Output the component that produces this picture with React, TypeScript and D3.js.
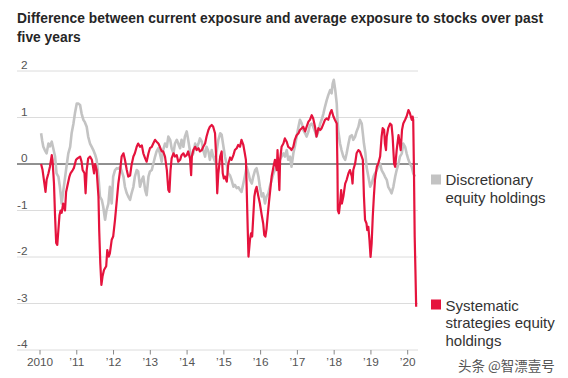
import React from "react";
import * as d3 from "d3";

const titleLines = [
  "Difference between current exposure and average exposure to stocks over past",
  "five years",
];
const yTicks = [-4, -3, -2, -1, 0, 1, 2];
const xTicks = [2010, 2011, 2012, 2013, 2014, 2015, 2016, 2017, 2018, 2019, 2020];
const legendDiscretionary = ["Discretionary", "equity holdings"];
const legendSystematic = ["Systematic", "strategies equity", "holdings"];
const watermark = "头条 @智漂壹号";

// [decimal year, value]
const discretionary: [number, number][] = [
  [2010.03, 0.66], [2010.06, 0.5], [2010.09, 0.37], [2010.13, 0.3], [2010.18, 0.23],
  [2010.23, 0.44], [2010.27, 0.38], [2010.32, 0.48], [2010.36, 0.34], [2010.41, 0.16],
  [2010.45, -0.2], [2010.5, -0.27], [2010.54, -0.49], [2010.59, -0.85], [2010.63, -0.6],
  [2010.68, -0.3], [2010.73, 0], [2010.77, 0.23], [2010.82, 0.37], [2010.86, 0.66],
  [2010.91, 0.87], [2010.95, 1.09], [2011.0, 1.3], [2011.04, 1.3], [2011.09, 1.27],
  [2011.13, 1.09], [2011.18, 0.95], [2011.22, 0.9], [2011.27, 0.8], [2011.31, 0.59],
  [2011.36, 0.44], [2011.4, 0.38], [2011.45, 0.3], [2011.5, 0.2], [2011.54, 0.09],
  [2011.59, -0.27], [2011.63, -0.7], [2011.68, -0.77], [2011.72, -0.92], [2011.77, -1.2],
  [2011.81, -0.99], [2011.86, -0.85], [2011.9, -0.49], [2011.95, -0.85], [2011.99, -0.27],
  [2012.04, -0.13], [2012.09, -0.09], [2012.13, -0.1], [2012.18, -0.06], [2012.22, -0.15],
  [2012.27, -0.27], [2012.31, -0.49], [2012.36, -0.63], [2012.4, -0.7], [2012.45, -0.77],
  [2012.49, -0.63], [2012.54, -0.49], [2012.58, -0.27], [2012.63, -0.13], [2012.67, -0.16],
  [2012.72, -0.49], [2012.77, -0.34], [2012.81, -0.27], [2012.86, -0.56], [2012.9, -0.67],
  [2012.95, -0.27], [2012.99, -0.16], [2013.04, -0.13], [2013.08, 0], [2013.13, 0.16],
  [2013.17, 0.27], [2013.22, 0.34], [2013.26, 0.23], [2013.31, 0.05], [2013.35, 0.3],
  [2013.4, 0.44], [2013.45, 0.37], [2013.49, 0.59], [2013.54, 0.52], [2013.58, 0.34],
  [2013.63, 0.23], [2013.67, 0.44], [2013.72, 0.52], [2013.76, 0.44], [2013.81, 0.34],
  [2013.85, 0.52], [2013.9, 0.37], [2013.94, 0.59], [2013.99, 0.7], [2014.03, 0.52],
  [2014.08, 0.27], [2014.12, 0.16], [2014.17, 0.23], [2014.22, 0.44], [2014.26, 0.34],
  [2014.31, 0.44], [2014.35, 0.55], [2014.4, 0.48], [2014.44, 0.3], [2014.49, 0.16],
  [2014.53, 0.37], [2014.58, 0.27], [2014.62, 0.09], [2014.67, 0.3], [2014.71, 0.16],
  [2014.76, 0.05], [2014.81, 0.3], [2014.85, 0.52], [2014.9, 0.66], [2014.94, 0.63],
  [2014.99, 0.37], [2015.03, 0.16], [2015.08, -0.02], [2015.12, -0.2], [2015.17, -0.25],
  [2015.21, -0.34], [2015.26, -0.49], [2015.3, -0.45], [2015.35, -0.52], [2015.4, -0.5],
  [2015.44, -0.56], [2015.48, -0.6], [2015.53, -0.42], [2015.57, -0.27], [2015.62, -0.06],
  [2015.67, -0.2], [2015.71, -0.34], [2015.76, -0.42], [2015.8, -0.27], [2015.85, -0.13],
  [2015.89, -0.09], [2015.94, -0.27], [2015.98, -0.49], [2016.03, -0.7], [2016.07, -0.63],
  [2016.12, -0.85], [2016.16, -0.7], [2016.21, -0.63], [2016.25, -0.49], [2016.3, -0.34],
  [2016.35, -0.2], [2016.39, -0.13], [2016.44, -0.06], [2016.48, 0.01], [2016.53, 0.09],
  [2016.57, 0.16], [2016.62, 0.23], [2016.66, 0.16], [2016.71, 0.3], [2016.75, 0.09],
  [2016.8, 0.16], [2016.84, -0.06], [2016.89, 0.23], [2016.93, 0.37], [2016.98, 0.59],
  [2017.03, 0.8], [2017.07, 0.95], [2017.12, 0.87], [2017.16, 0.73], [2017.21, 0.66],
  [2017.25, 0.59], [2017.3, 0.7], [2017.34, 0.84], [2017.39, 0.87], [2017.43, 0.8],
  [2017.48, 0.7], [2017.52, 0.59], [2017.57, 0.7], [2017.62, 0.87], [2017.66, 0.95],
  [2017.71, 1.09], [2017.75, 1.23], [2017.8, 1.38], [2017.84, 1.48], [2017.89, 1.59],
  [2017.93, 1.52], [2017.96, 1.73], [2017.99, 1.81], [2018.03, 1.59], [2018.07, 1.3],
  [2018.09, 0.95], [2018.11, 0.73], [2018.16, 0.44], [2018.2, 0.3], [2018.25, 0.16],
  [2018.3, 0.09], [2018.34, 0.23], [2018.39, 0.44], [2018.43, 0.59], [2018.48, 0.62],
  [2018.52, 0.52], [2018.57, 0.59], [2018.61, 0.7], [2018.66, 0.8], [2018.7, 0.95],
  [2018.75, 0.87], [2018.78, 0.66], [2018.81, 0.44], [2018.85, 0.23], [2018.88, -0.06],
  [2018.93, -0.27], [2018.98, -0.49], [2019.02, -0.42], [2019.07, -0.27], [2019.11, -0.2],
  [2019.16, -0.13], [2019.2, -0.06], [2019.25, 0.01], [2019.29, -0.13], [2019.34, -0.2],
  [2019.38, -0.27], [2019.43, -0.34], [2019.47, -0.49], [2019.52, -0.56], [2019.56, -0.63],
  [2019.61, -0.49], [2019.66, -0.27], [2019.7, -0.13], [2019.75, 0.01], [2019.79, 0.16],
  [2019.84, 0.23], [2019.88, 0.44], [2019.93, 0.37], [2019.97, 0.23], [2020.02, 0.09],
  [2020.06, 0.01], [2020.11, -0.06], [2020.15, -0.2], [2020.2, -0.27],
];

const systematic: [number, number][] = [
  [2010.03, 0], [2010.07, -0.13], [2010.12, -0.42], [2010.15, -0.6], [2010.18, -0.34],
  [2010.23, -0.2], [2010.27, -0.06], [2010.32, 0.19], [2010.34, 0.09], [2010.38, -0.42],
  [2010.41, -1.13], [2010.44, -1.7], [2010.47, -1.74], [2010.5, -1.42], [2010.53, -1.1],
  [2010.56, -1.0], [2010.59, -1.05], [2010.63, -0.85], [2010.68, -1.0], [2010.71, -0.6],
  [2010.74, -0.49], [2010.8, -0.27], [2010.83, -0.2], [2010.89, -0.13], [2010.92, -0.09],
  [2010.98, 0.09], [2011.02, 0.12], [2011.09, 0.16], [2011.13, 0.05], [2011.16, -0.13],
  [2011.21, -0.2], [2011.24, -0.63], [2011.27, -0.13], [2011.31, 0.12], [2011.36, 0.16],
  [2011.41, 0.09], [2011.43, 0], [2011.47, -0.2], [2011.5, 0], [2011.54, -0.13],
  [2011.59, -0.7], [2011.61, -1.42], [2011.64, -2.14], [2011.67, -2.6], [2011.7, -2.42],
  [2011.74, -2.28], [2011.8, -2.2], [2011.83, -1.85], [2011.87, -1.99], [2011.9, -1.92],
  [2011.95, -1.63], [2011.99, -1.56], [2012.04, -1.2], [2012.09, -0.77], [2012.13, -0.42],
  [2012.18, -0.13], [2012.22, 0.16], [2012.27, 0.23], [2012.31, 0.09], [2012.36, -0.13],
  [2012.4, -0.27], [2012.45, -0.25], [2012.49, -0.02], [2012.54, 0.16], [2012.58, 0.23],
  [2012.63, 0.37], [2012.67, 0.44], [2012.72, 0.37], [2012.77, 0.4], [2012.81, 0.23],
  [2012.86, 0.12], [2012.9, 0.05], [2012.95, 0.23], [2012.99, 0.34], [2013.04, 0.37],
  [2013.08, 0.44], [2013.13, 0.52], [2013.17, 0.48], [2013.22, 0.44], [2013.26, 0.37],
  [2013.31, 0.27], [2013.35, 0.27], [2013.4, 0.16], [2013.45, -0.13], [2013.49, -0.56],
  [2013.52, -0.6], [2013.55, -0.13], [2013.58, 0.12], [2013.63, 0.23], [2013.67, 0.16],
  [2013.72, 0.19], [2013.76, 0.05], [2013.81, 0.09], [2013.85, 0.19], [2013.9, 0.23],
  [2013.94, 0.16], [2013.99, 0.19], [2014.03, 0.27], [2014.08, 0.12], [2014.11, -0.24],
  [2014.13, 0.16], [2014.17, 0.3], [2014.22, 0.37], [2014.26, 0.3], [2014.31, 0.34],
  [2014.35, 0.27], [2014.4, 0.3], [2014.44, 0.37], [2014.49, 0.44], [2014.53, 0.59],
  [2014.58, 0.73], [2014.62, 0.8], [2014.67, 0.84], [2014.71, 0.8], [2014.76, 0.66],
  [2014.79, 0.16], [2014.82, -0.63], [2014.85, -0.2], [2014.9, 0.16], [2014.94, 0.27],
  [2014.97, -0.2], [2015.0, -0.31], [2015.03, -0.27], [2015.08, -0.38], [2015.12, 0],
  [2015.17, 0.14], [2015.21, 0.09], [2015.26, 0.19], [2015.3, 0.3], [2015.35, 0.34],
  [2015.39, 0.41], [2015.44, 0.37], [2015.48, 0.52], [2015.53, 0.41], [2015.57, 0.23],
  [2015.6, 0.09], [2015.62, -0.49], [2015.65, -1.42], [2015.67, -1.99], [2015.71, -1.63],
  [2015.74, -1.49], [2015.77, -1.56], [2015.8, -1.13], [2015.83, -0.7], [2015.86, -0.56],
  [2015.89, -0.49], [2015.94, -0.7], [2015.98, -0.85], [2016.03, -1.1], [2016.07, -1.28],
  [2016.1, -1.53], [2016.13, -1.56], [2016.16, -1.4], [2016.19, -1.13], [2016.23, -0.8],
  [2016.27, -0.5], [2016.3, -0.27], [2016.35, -0.06], [2016.39, 0.09], [2016.44, -0.13],
  [2016.46, 0.3], [2016.51, -0.56], [2016.53, 0.09], [2016.57, 0.37], [2016.62, 0.44],
  [2016.66, 0.55], [2016.71, 0.48], [2016.75, 0.37], [2016.8, 0.34], [2016.84, 0.3],
  [2016.89, 0.37], [2016.93, 0.52], [2016.98, 0.62], [2017.03, 0.66], [2017.07, 0.73],
  [2017.12, 0.77], [2017.16, 0.8], [2017.21, 0.7], [2017.25, 0.8], [2017.3, 0.91],
  [2017.34, 0.95], [2017.39, 1.05], [2017.43, 0.98], [2017.48, 0.8], [2017.52, 0.59],
  [2017.57, 0.77], [2017.62, 0.73], [2017.66, 0.77], [2017.71, 0.87], [2017.75, 0.95],
  [2017.8, 0.98], [2017.84, 0.95], [2017.89, 1.09], [2017.93, 1.16], [2017.98, 1.02],
  [2018.02, 0.95], [2018.07, 0.87], [2018.09, -0.13], [2018.1, -0.99], [2018.13, -1.06],
  [2018.16, -0.85], [2018.19, -0.56], [2018.21, -0.85], [2018.25, -0.7], [2018.3, -0.42],
  [2018.34, -0.34], [2018.39, -0.2], [2018.43, -0.13], [2018.48, -0.27], [2018.5, -0.42],
  [2018.52, -0.13], [2018.57, 0.01], [2018.61, 0.23], [2018.66, 0.3], [2018.7, 0.27],
  [2018.75, 0.16], [2018.78, 0.09], [2018.81, -0.7], [2018.84, -1.2], [2018.88, -1.28],
  [2018.9, -1.42], [2018.93, -1.35], [2018.96, -1.63], [2018.99, -2.0], [2019.02, -1.7],
  [2019.05, -1.13], [2019.08, -0.7], [2019.11, -0.34], [2019.16, -0.06], [2019.2, 0.01],
  [2019.25, 0.16], [2019.29, 0.59], [2019.32, 0.77], [2019.36, 0.73], [2019.38, 0.44],
  [2019.41, 0.3], [2019.43, 0.59], [2019.47, 0.77], [2019.52, 0.87], [2019.56, 0.84],
  [2019.59, 0.59], [2019.63, 0.01], [2019.66, -0.06], [2019.7, 0.3], [2019.75, 0.62],
  [2019.77, 0.52], [2019.81, 0.3], [2019.845, 0.73], [2019.88, 0.87], [2019.93, 0.95],
  [2019.97, 1.02], [2020.02, 1.16], [2020.06, 1.09], [2020.11, 0.95], [2020.135, 1.02],
  [2020.15, 0.95], [2020.17, -0.13], [2020.19, -1.56], [2020.21, -2.28], [2020.23, -3.07],
];

const RED = "#e5133d";
const GRAY = "#c3c3c3";
const FONT = "'Liberation Sans', Arial, sans-serif";

export default function App() {
  const width = 568;
  const height = 378;
  const x = d3.scaleLinear().domain([2010, 2020]).range([40, 407.7]);
  const y = d3.scaleLinear().domain([-4, 2]).range([350, 71]);
  const line = d3
    .line<[number, number]>()
    .x((d) => x(d[0]))
    .y((d) => y(d[1]));
  const gridX0 = 17;
  const gridX1 = 418;
  const fmt = (yr: number) => (yr === 2010 ? "2010" : "\u2019" + String(yr).slice(2));

  return (
    <svg
      width={width}
      height={height}
      style={{ position: "absolute", left: 0, top: 0, display: "block", background: "#fff" }}
      fontFamily={FONT}
    >
      <rect x={0} y={0} width={width} height={height} fill="#fff" />
      {titleLines.map((t, i) => (
        <text
          key={t}
          x={17}
          y={22.5 + i * 19.5}
          fontSize={13.8}
          fontWeight="bold"
          fill="#262626"
          {...(i === 0 ? { textLength: 526, lengthAdjust: "spacing" } : {})}
        >
          {t}
        </text>
      ))}
      {yTicks.map((v) => (
        <g key={v}>
          <line
            x1={gridX0}
            x2={gridX1}
            y1={y(v)}
            y2={y(v)}
            stroke={v === 0 ? "#222" : "#dcdcdc"}
            strokeWidth={1}
          />
          <text x={27.5} y={y(v) - 2} textAnchor="end" fontSize={11.8} fill="#555">
            {v < 0 ? "-" + Math.abs(v) : String(v)}
          </text>
        </g>
      ))}
      {xTicks.map((yr) => (
        <g key={yr}>
          <line x1={x(yr)} x2={x(yr)} y1={y(-4)} y2={y(-4) + 4.5} stroke="#888" strokeWidth={1} />
          <text x={x(yr)} y={365.5} textAnchor="middle" fontSize={11.8} fill="#555">
            {fmt(yr)}
          </text>
        </g>
      ))}
      <path d={line(discretionary) || ""} fill="none" stroke={GRAY} strokeWidth={2.6} strokeLinejoin="round" />
      <path d={line(systematic) || ""} fill="none" stroke={RED} strokeWidth={2.2} strokeLinejoin="round" />

      <rect x={431} y={174.5} width={10} height={10} fill={GRAY} />
      {legendDiscretionary.map((t, i) => (
        <text key={t} x={445.5} y={185.3 + i * 17.7} fontSize={15} fill="#333">
          {t}
        </text>
      ))}
      <rect x={431} y={299.5} width={10} height={10} fill={RED} />
      {legendSystematic.map((t, i) => (
        <text key={t} x={445.5} y={310.5 + i * 17.8} fontSize={15} fill="#333">
          {t}
        </text>
      ))}
      <text x={458} y={371} fontSize={13.5} fill="#555" fontFamily="'Noto Sans CJK SC', sans-serif">
        {watermark}
      </text>
    </svg>
  );
}
